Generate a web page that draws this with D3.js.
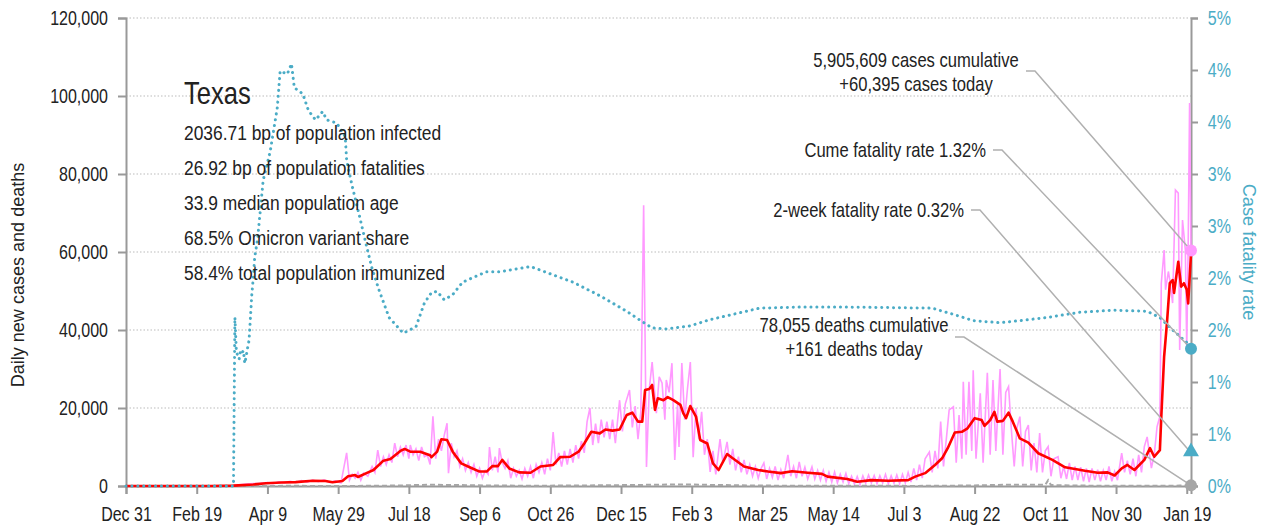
<!DOCTYPE html>
<html>
<head>
<meta charset="utf-8">
<script src="https://cdn.jsdelivr.net/npm/d3@7"></script>
<style>
body { margin: 0; background: #fff; }
svg text { font-family: "Liberation Sans", Arial, sans-serif; fill: #222; }
</style>
</head>
<body>
<svg class="chart"></svg>
<script>
// days are counted from Dec 31 2019
var startDate = new Date(2019, 11, 31);

var xTickDays = [0, 50, 100, 150, 200, 250, 300, 350, 400, 450, 500, 550, 600, 650, 700, 750];
var xTickLabels = ["Dec 31", "Feb 19", "Apr 9", "May 29", "Jul 18", "Sep 6", "Oct 26", "Dec 15",
  "Feb 3", "Mar 25", "May 14", "Jul 3", "Aug 22", "Oct 11", "Nov 30", "Jan 19"];
var leftTicks = [0, 20000, 40000, 60000, 80000, 100000, 120000];
var rightTicks = [0, 0.005, 0.01, 0.015, 0.02, 0.025, 0.03, 0.035, 0.04, 0.045];
var rightTickLabels = ["0%", "1%", "1%", "2%", "2%", "3%", "3%", "4%", "4%", "5%"];

// daily new cases (pink)
var caseDays = [0, 64, 70, 75, 80, 85, 90, 95, 100, 104, 108, 112, 116, 120, 124, 128, 132, 136, 140, 144, 148, 152,
  156, 158, 160, 162, 164, 166, 168, 171, 174, 176, 178, 180, 182, 184, 186, 188, 190, 192, 194, 196, 198, 200,
  201, 203, 205, 207, 209, 211, 213, 215, 217, 219, 221, 223, 225, 227, 228, 230, 232, 234, 236, 238, 240, 242,
  244, 246, 248, 250, 252, 254, 256, 257, 259, 261, 263, 264, 266, 268, 270, 272, 274, 276, 278, 280, 282, 284,
  286, 288, 290, 292, 294, 296, 298, 300, 302, 304, 306, 308, 310, 312, 314, 316, 318, 320, 322, 324, 326, 328,
  330, 332, 334, 336, 338, 340, 342, 344, 346, 349, 351, 353, 356, 358, 360, 362, 364, 366, 368, 370, 372, 375,
  377, 379, 381, 382, 384, 386, 388, 390, 391, 393, 395, 397, 399, 401, 403, 405, 407, 409, 411, 413, 415, 417,
  418, 420, 422, 425, 427, 429, 431, 433, 435, 437, 439, 441, 443, 445, 447, 449, 451, 453, 455, 457, 459, 461,
  463, 465, 468, 470, 472, 474, 476, 478, 480, 482, 485, 487, 489, 491, 493, 495, 497, 499, 501, 503, 505, 507,
  509, 511, 513, 515, 517, 519, 521, 523, 525, 527, 529, 531, 533, 535, 537, 539, 541, 543, 545, 547, 549, 551,
  553, 555, 557, 559, 561, 563, 565, 568, 570, 572, 574, 576, 578, 580, 582, 585, 587, 589, 591, 592, 594, 596,
  598, 599, 601, 604, 606, 609, 611, 613, 615, 618, 620, 622, 624, 626, 628, 630, 632, 634, 636, 638, 640, 642,
  644, 646, 648, 650, 652, 654, 656, 659, 661, 663, 665, 667, 669, 671, 673, 675, 677, 679, 681, 683, 685, 687,
  689, 691, 693, 695, 697, 699, 701, 704, 706, 708, 710, 712, 714, 716, 718, 720, 722, 725, 727, 729, 731, 732,
  734, 735, 737, 738, 740, 742, 744, 745, 747, 749, 750, 751, 752, 753];
var caseDaily = [0, 0, 50, 80, 300, 500, 600, 700, 900, 600, 1100, 800, 1200, 900, 1400, 1000, 1500, 1100, 1600, 900, 1300, 800,
  8500, 1500, 3000, 2000, 3500, 1500, 3300, 2500, 5000, 3500, 9200, 5000, 7500, 5500, 8000, 6000, 11000, 7500, 10000, 8000, 10500, 7000,
  10500, 8000, 9500, 6500, 10000, 7500, 8000, 5500, 17900, 7000, 12000, 9000, 13000, 16100, 3300, 11000, 7500, 9000, 5000, 7000, 4000, 6000,
  3500, 5500, 2500, 4500, 2000, 4000, 3000, 10000, 4000, 7500, 3500, 9700, 6000, 4500, 6500, 2000, 4500, 2500, 4000, 1800, 4500, 2500,
  5000, 2000, 5500, 3500, 6000, 3000, 7000, 4000, 13800, 5500, 8500, 5000, 9000, 5500, 9500, 6000, 10500, 7000, 11500, 8500, 16500, 20000,
  10500, 16000, 11000, 17000, 12500, 16500, 12000, 17000, 11000, 22000, 14000, 21000, 24600, 15000, 20500, 12000, 19000, 72000, 4900, 25000, 31800, 18700,
  28000, 26400, 17000, 27200, 24000, 31500, 6700, 21000, 10000, 31500, 17000, 25000, 31800, 7400, 20000, 12000, 19000, 8000, 12000, 3600, 9000, 3000,
  6000, 12000, 6000, 11300, 5500, 9500, 4000, 7500, 3500, 6700, 3000, 5500, 2500, 5000, 2000, 4500, 5900, 1800, 4500, 2200, 5000, 1500,
  4200, 2000, 8000, 2500, 5000, 2000, 6200, 2500, 4800, 1800, 4900, 1800, 4000, 1500, 4000, 1200, 3500, 1000, 3600, 800, 3000, 1000,
  3200, 600, 2500, 500, 2400, 400, 2600, 700, 2800, 800, 2700, 600, 2600, 800, 3000, 600, 2600, 700, 2800, 600, 3000, 800,
  3500, 1000, 4500, 1500, 5500, 2000, 7000, 8700, 3500, 9000, 4500, 16500, 5000, 12000, 19500, 20300, 6000, 18200, 7000, 26700, 8000, 26700,
  9000, 29700, 7000, 23800, 6000, 29000, 8000, 27200, 9000, 30000, 8000, 24000, 25500, 14400, 5000, 15000, 17800, 5000, 14000, 15600, 4000, 11000,
  3500, 13600, 3500, 9000, 10100, 2500, 7000, 7500, 2000, 5000, 1800, 5900, 1500, 5000, 1500, 4800, 1200, 4500, 1000, 4500, 1500, 4200,
  1200, 4000, 1500, 5000, 1200, 3700, 1500, 8400, 3500, 6500, 3000, 7000, 2500, 8000, 3500, 10100, 12600, 4600, 8000, 15200, 17800, 52000,
  60500, 50300, 55000, 52800, 46900, 75900, 75100, 34900, 68200, 60500, 34900, 61300, 98200, 60395];

// 7-day average of cases (red)
var avgDays = [0, 60, 76, 90, 99, 110, 120, 132, 141, 146, 153, 157, 162, 164, 170, 175, 182, 187, 194, 197, 201, 208,
  215, 216, 220, 223, 227, 231, 237, 243, 250, 255, 259, 263, 266, 271, 278, 286, 293, 302, 307, 314, 320, 324, 329,
  335, 339, 344, 349, 354, 358, 362, 365, 367, 370, 372, 374, 376, 380, 383, 387, 392, 394, 396, 399, 403, 406, 411,
  415, 419, 425, 429, 437, 447, 454, 463, 471, 482, 492, 496, 510, 517, 527, 539, 553, 558, 565, 572, 577, 581, 586,
  591, 595, 600, 605, 607, 611, 614, 616, 620, 624, 627, 632, 638, 645, 655, 664, 678, 687, 694, 699, 704, 708, 713,
  720, 724, 727, 731, 732, 734, 736, 738, 740, 741, 744, 746, 748, 750, 751, 753];
var avgCases = [0, 0, 100, 400, 700, 900, 1000, 1350, 1300, 950, 1300, 2500, 2800, 2300, 3300, 4100, 6500, 6900, 9000, 9500, 8800, 8800,
  7900, 7400, 8800, 12000, 11800, 8800, 5800, 4800, 3700, 3700, 5100, 5100, 6700, 4500, 3500, 3400, 5000, 5400, 7400, 7500, 8800, 10900, 13900,
  13500, 14500, 14200, 14500, 18200, 18800, 16500, 16500, 24600, 24900, 25900, 19500, 22500, 22000, 22800, 22000, 20800, 18700, 17400, 20500, 17800, 11800, 10900,
  5800, 4100, 8200, 7100, 5000, 4100, 3700, 3300, 3800, 3400, 3100, 2400, 1800, 1100, 1500, 1350, 1500, 2400, 3300, 5400, 7100, 9700, 13700,
  13900, 14800, 17400, 16900, 15400, 16900, 19000, 16500, 16700, 18800, 16500, 12200, 11100, 8400, 6700, 4800, 3900, 3400, 3500, 2700, 4500, 5400, 4100,
  6700, 9700, 7500, 9200, 17800, 33200, 41800, 52000, 52800, 49500, 57500, 51100, 52000, 50300, 46800, 59500];

// daily deaths (grey dashed)
var deathDays = [0, 70, 85, 100, 120, 140, 160, 180, 195, 205, 215, 225, 240, 260, 280, 300, 320, 340, 360, 375, 390, 400,
  410, 420, 440, 460, 480, 500, 520, 540, 560, 580, 600, 620, 640, 650, 652, 654, 670, 690, 710, 730, 745, 753];
var deathDaily = [0, 0, 10, 30, 35, 25, 20, 60, 150, 250, 300, 280, 220, 110, 90, 90, 130, 200, 250, 330, 380, 400,
  300, 250, 150, 90, 70, 50, 40, 35, 30, 60, 150, 300, 330, 300, 1500, 250, 120, 70, 60, 60, 100, 161];

// case fatality rate in % (blue dotted, right axis)
var cfrDays = [0, 76, 77, 78, 79, 80, 81, 82, 83, 84, 85, 86, 87, 88, 89, 90, 91, 93, 97, 102, 107, 109, 114, 117, 119,
  125, 129, 134, 139, 142, 149, 155, 156, 160, 165, 170, 174, 179, 186, 196, 205, 211, 216, 220, 225, 231, 238, 248,
  255, 264, 286, 300, 316, 335, 354, 365, 372, 382, 399, 413, 429, 448, 476, 512, 570, 585, 599, 618, 632, 651, 674,
  698, 722, 731, 740, 750, 753];
var cfrRate = [0, 0, 1.62, 1.3, 1.25, 1.22, 1.3, 1.28, 1.3, 1.18, 1.25, 1.33, 1.4, 1.62, 1.85, 2.0, 2.2, 2.37, 2.94, 3.22, 3.64, 3.99, 3.96, 4.06, 3.83,
  3.77, 3.61, 3.52, 3.6, 3.52, 3.49, 3.36, 3.13, 2.88, 2.6, 2.31, 2.09, 1.88, 1.62, 1.47, 1.53, 1.76, 1.86, 1.87, 1.79, 1.84, 1.96, 2.02,
  2.06, 2.06, 2.11, 2.04, 1.96, 1.83, 1.68, 1.58, 1.52, 1.51, 1.54, 1.6, 1.65, 1.71, 1.72, 1.72, 1.71, 1.65, 1.59, 1.57, 1.59, 1.62, 1.67,
  1.69, 1.68, 1.62, 1.5, 1.38, 1.32];

var infoTitle = "Texas";
var infoLines = ["2036.71 bp of population infected", "26.92 bp of population fatalities",
  "33.9 median population age", "68.5% Omicron variant share", "58.4% total population immunized"];

var lastCases = 60395, lastCfr = 0.0132, lastTwoWeek = 0.0032, lastDeaths = 161;
var casesNote = ["5,905,609 cases cumulative", "+60,395 cases today"];
var deathsNote = ["78,055 deaths cumulative", "+161 deaths today"];
var cumeNote = "Cume fatality rate 1.32%";
var twoWeekNote = "2-week fatality rate 0.32%";

var ui = {
  width: 1265, height: 525,
  left: 126, right: 1191, top: 18, bottom: 486,
  pink: "#ff99ff", red: "#ff0000", teal: "#4bacc6", grey: "#a6a6a6", axis: "#999"
};

function day(d) { return d3.timeDay.offset(startDate, d); }
function pairs(days, vals) { return days.map(function(d, i) { return { date: day(d), v: vals[i] }; }); }

// condensed look: squeeze Liberation Sans horizontally
function label(x, y, str, size, sx, anchor, color) {
  return chart.append("text")
    .attr("transform", "translate(" + x + "," + y + ") scale(" + sx + ",1)")
    .attr("text-anchor", anchor || "start")
    .style("font-size", size + "px").style("fill", color || "#222")
    .text(str);
}

var chart = d3.select(".chart").attr("width", ui.width).attr("height", ui.height);

var x = d3.scaleTime().domain([day(0), day(753)]).range([ui.left, ui.right]);
var y = d3.scaleLinear().domain([0, 120000]).range([ui.bottom, ui.top]);
var yR = d3.scaleLinear().domain([0, 0.045]).range([ui.bottom, ui.top]);

// grid
chart.append("g").selectAll("line")
  .data(leftTicks.filter(function(t) { return t > 0; }))
  .enter().append("line")
  .attr("x1", ui.left).attr("x2", ui.right)
  .attr("y1", function(d) { return y(d); }).attr("y2", function(d) { return y(d); })
  .style("stroke", "#bbb").style("stroke-width", 1).style("stroke-dasharray", "1.5,2");

function styleAxis(g, color) {
  g.select(".domain").style("stroke", ui.axis).style("stroke-width", 2);
  g.selectAll(".tick line").style("stroke", ui.axis).style("stroke-width", 2);
  g.selectAll(".tick text").style("font-size", "20px").style("fill", color)
    .attr("transform", "scale(0.8,1)");
}

var gx = chart.append("g").attr("transform", "translate(0," + ui.bottom + ")")
  .call(d3.axisBottom(x).tickValues(xTickDays.map(day)).tickSize(8).tickPadding(8)
    .tickFormat(function(d, i) { return xTickLabels[i]; }));
styleAxis(gx, "#222");
gx.selectAll(".tick text").attr("dy", "0.95em");

var gl = chart.append("g").attr("transform", "translate(" + ui.left + ",0)")
  .call(d3.axisLeft(y).tickValues(leftTicks).tickSize(8).tickPadding(14.5).tickFormat(d3.format(",")));
styleAxis(gl, "#222");

var gr = chart.append("g").attr("transform", "translate(" + ui.right + ",0)")
  .call(d3.axisRight(yR).tickValues(rightTicks).tickSize(7).tickPadding(14)
    .tickFormat(function(d, i) { return rightTickLabels[i]; }));
styleAxis(gr, ui.teal);

// axis titles
chart.append("text")
  .attr("transform", "translate(24,275) rotate(-90) scale(0.95,1)")
  .attr("text-anchor", "middle").style("font-size", "19px")
  .text("Daily new cases and deaths");
chart.append("text")
  .attr("transform", "translate(1243,252) rotate(90) scale(0.96,1)")
  .attr("text-anchor", "middle").style("font-size", "19px").style("fill", ui.teal)
  .text("Case fatality rate");

// series
var line = d3.line().x(function(d) { return x(d.date); }).y(function(d) { return y(d.v); });
var lineR = d3.line().x(function(d) { return x(d.date); }).y(function(d) { return yR(d.v / 100); });

chart.append("path").datum(pairs(caseDays, caseDaily)).attr("d", line)
  .style("fill", "none").style("stroke", ui.pink).style("stroke-width", 1.6);
chart.append("path").datum(pairs(deathDays, deathDaily)).attr("d", line)
  .style("fill", "none").style("stroke", ui.grey).style("stroke-width", 2).style("stroke-dasharray", "5,3");
chart.append("path").datum(pairs(avgDays, avgCases)).attr("d", line)
  .style("fill", "none").style("stroke", ui.red).style("stroke-width", 2.6).style("stroke-linejoin", "round");
chart.append("path").datum(pairs(cfrDays, cfrRate)).attr("d", lineR)
  .style("fill", "none").style("stroke", ui.teal).style("stroke-width", 3)
  .style("stroke-linecap", "round").style("stroke-dasharray", "0.1,5.8");

// info block
label(184, 104, infoTitle, 32, 0.8);
infoLines.forEach(function(t, i) { label(184, 140 + i * 35, t, 20, 0.87); });

// annotations with leader lines
var endX = x(day(753));
var notes = [
  { lines: casesNote, anchor: "middle", tx: 916, ty: 67, ly: 71, lx: 1026, target: y(lastCases) },
  { lines: [cumeNote], anchor: "end", tx: 986, ty: 157, ly: 150, lx: 993, target: yR(lastCfr) },
  { lines: [twoWeekNote], anchor: "end", tx: 964, ty: 217, ly: 210, lx: 971, target: yR(lastTwoWeek) },
  { lines: deathsNote, anchor: "middle", tx: 854, ty: 332, ly: 337, lx: 955, target: y(lastDeaths) }
];
notes.forEach(function(n) {
  chart.append("path")
    .attr("d", "M" + n.lx + "," + n.ly + "H" + (n.lx + 9) + "L" + endX + "," + n.target)
    .style("fill", "none").style("stroke", "#b0b0b0").style("stroke-width", 1.5);
  n.lines.forEach(function(t, i) { label(n.tx, n.ty + i * 24, t, 20, 0.83, n.anchor); });
});

// end markers
chart.append("circle").attr("cx", endX).attr("cy", y(lastCases)).attr("r", 6).style("fill", ui.pink);
chart.append("circle").attr("cx", endX).attr("cy", yR(lastCfr)).attr("r", 6).style("fill", ui.teal);
chart.append("path").attr("d", d3.symbol().type(d3.symbolTriangle).size(110))
  .attr("transform", "translate(" + endX + "," + (yR(lastTwoWeek) - 1) + ")").style("fill", ui.teal);
chart.append("circle").attr("cx", endX).attr("cy", y(lastDeaths)).attr("r", 6).style("fill", ui.grey);
</script>
</body>
</html>
